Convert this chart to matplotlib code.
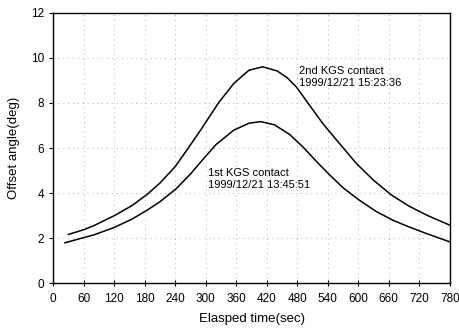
import matplotlib
matplotlib.use('Agg')
import matplotlib.pyplot as plt

# 2nd KGS contact (upper curve)
t_2nd = [30, 60, 80, 120, 155, 185, 210, 240, 260, 290, 325, 355, 385, 412,
         440, 460, 478, 504, 530, 563, 596, 630, 665, 700, 735, 780]
v_2nd = [2.17, 2.38, 2.56, 3.0, 3.45, 3.95, 4.45, 5.18, 5.82, 6.8, 8.0, 8.86,
         9.45, 9.6, 9.42, 9.12, 8.71, 7.9, 7.09, 6.2, 5.32, 4.57, 3.92, 3.42,
         3.02, 2.58]

# 1st KGS contact (lower curve)
t_1st = [23, 60, 80, 120, 155, 185, 210, 242, 270, 290, 320, 355, 385, 408,
         435, 465, 491, 517, 544, 570, 600, 635, 668, 700, 735, 780]
v_1st = [1.8, 2.03, 2.15, 2.48, 2.85, 3.25, 3.62, 4.2, 4.85, 5.38, 6.15, 6.79,
         7.1, 7.17, 7.03, 6.6, 6.05, 5.42, 4.8, 4.24, 3.72, 3.19, 2.8, 2.5,
         2.2, 1.84]

x_ticks = list(range(0, 781, 60))
y_ticks = list(range(0, 13, 2))

plt.rcParams['font.family'] = ['Liberation Sans', 'DejaVu Sans']

fig = plt.figure(figsize=(4.59, 3.33), dpi=100)
ax = fig.add_axes([0.116, 0.149, 0.864, 0.813])

ax.plot(t_2nd, v_2nd, color='black', lw=1.1)
ax.plot(t_1st, v_1st, color='black', lw=1.1)

ax.text(483, 9.62, "2nd KGS contact\n1999/12/21 15:23:36", fontsize=8,
        ha='left', va='top', linespacing=1.2)
ax.text(304, 5.1, "1st KGS contact\n1999/12/21 13:45:51", fontsize=8,
        ha='left', va='top', linespacing=1.2)

ax.set_xlim(0, 780)
ax.set_ylim(0, 12)
ax.set_xticks(x_ticks)
ax.set_yticks(y_ticks)
ax.grid(True, color='#b0b0b0', linestyle=(0, (1, 4)), linewidth=0.7)
ax.tick_params(axis='x', direction='inout', length=4, labelsize=8.5, pad=5)
ax.tick_params(axis='y', direction='out', length=3, labelsize=8.5)
for s in ax.spines.values():
    s.set_linewidth(1.0)

ax.set_xlabel("Elasped time(sec)", fontsize=9.5, labelpad=6)
ax.set_ylabel("Offset angle(deg)", fontsize=9.5, labelpad=8)

fig.savefig('out.png', dpi=100)
